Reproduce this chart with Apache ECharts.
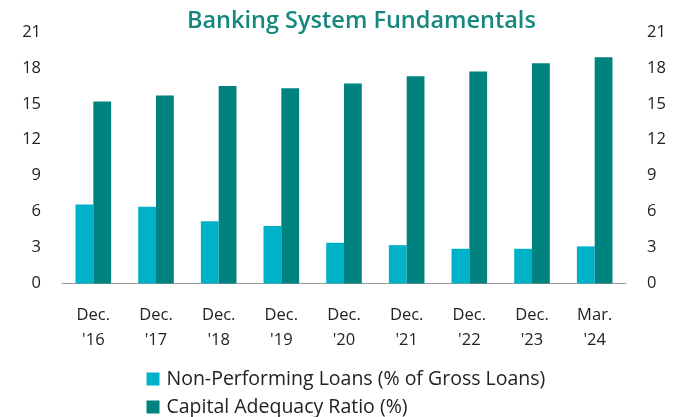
<!DOCTYPE html>
<html><head><meta charset="utf-8">
<script src="https://cdn.jsdelivr.net/npm/echarts@6/dist/echarts.min.js"></script>
<style>html,body{margin:0;padding:0;background:#fff}#c{width:683px;height:417px}</style>
</head><body><div id="c"></div>
<script>
const categories = ["Dec.\n'16","Dec.\n'17","Dec.\n'18","Dec.\n'19","Dec.\n'20","Dec.\n'21","Dec.\n'22","Dec.\n'23","Mar.\n'24"];
const nplValues = [6.6, 6.4, 5.2, 4.8, 3.4, 3.2, 2.9, 2.9, 3.1];
const carValues = [15.2, 15.7, 16.5, 16.3, 16.7, 17.3, 17.7, 18.4, 18.9];
const seriesNames = ["Non-Performing Loans (% of Gross Loans)", "Capital Adequacy Ratio (%)"];
const titleText = "Banking System Fundamentals";

const FONT = "Open Sans";
const chart = echarts.init(document.getElementById('c'), null, {renderer:'canvas'});
const yAx = (pos) => ({
  type:'value', position:pos, min:0, max:21, interval:3,
  axisLine:{show:false}, axisTick:{show:false}, splitLine:{show:false},
  axisLabel:{fontFamily:FONT, fontSize:16.5, color:'#222', margin:21}
});
chart.setOption({
  animation:false,
  title:{text:titleText, left:187, top:9, padding:0, textStyle:{fontFamily:FONT, fontSize:23.5, fontWeight:600, color:'#15877F'}},
  grid:{left:62, right:57, top:32, bottom:133.5},
  legend:{orient:'vertical', left:146.5, top:368.5, height:70, padding:0, itemWidth:13, itemHeight:13, itemGap:7, icon:'rect',
    textStyle:{fontFamily:FONT, fontSize:19.5, color:'#222', padding:[0,0,0,2], lineHeight:21}},
  xAxis:{type:'category', data:categories,
    axisLine:{lineStyle:{color:'#999', width:1}},
    axisTick:{length:6, lineStyle:{color:'#999'}},
    axisLabel:{fontFamily:FONT, fontSize:16.5, color:'#222', lineHeight:25, margin:19}},
  yAxis:[yAx('left'), yAx('right')],
  series:[
    {name:seriesNames[0], type:'bar', data:nplValues, yAxisIndex:0, barWidth:17.8, barGap:'0%', itemStyle:{color:'#00B2C7'}},
    {name:seriesNames[1], type:'bar', data:carValues, yAxisIndex:0, barWidth:17.8, itemStyle:{color:'#00827F'}}
  ]
});
</script></body></html>
